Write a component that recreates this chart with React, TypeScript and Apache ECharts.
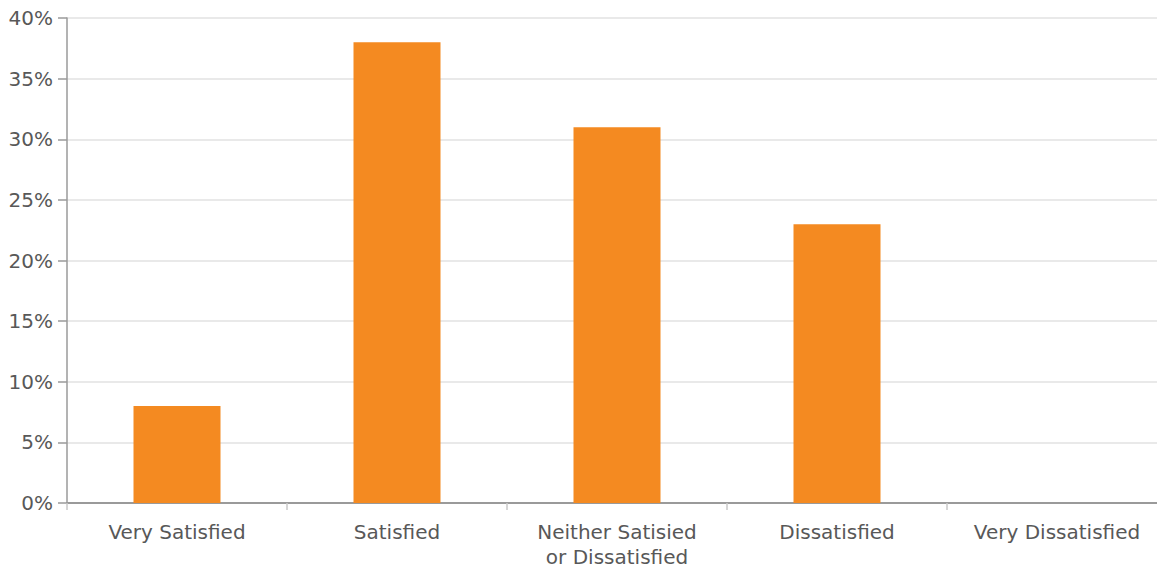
import React, { useEffect, useRef } from "react";
import * as echarts from "echarts";

const categories = [
  "Very Satisfied",
  "Satisfied",
  "Neither Satisied\nor Dissatisfied",
  "Dissatisfied",
  "Very Dissatisfied",
];
const values = [8, 38, 31, 23, 0];
const yTicks = { min: 0, max: 40, interval: 5 };

export default function App() {
  const ref = useRef<HTMLDivElement>(null);
  useEffect(() => {
    document.body.style.margin = "0";
    const chart = echarts.init(ref.current!, null, { renderer: "svg" });
    const font = "'DejaVu Sans', sans-serif";
    chart.setOption({
      animation: false,
      grid: { left: 67, right: 0, top: 18, bottom: 64, containLabel: false },
      xAxis: {
        type: "category",
        data: categories,
        axisLine: { lineStyle: { color: "#9a9a9a", width: 2 } },
        axisTick: { show: true, length: 7, lineStyle: { color: "#c8c8c8", width: 1.5 } },
        axisLabel: {
          color: "#585858",
          fontSize: 20,
          fontFamily: font,
          margin: 16,
          lineHeight: 25,
          interval: 0,
        },
      },
      yAxis: {
        type: "value",
        min: yTicks.min,
        max: yTicks.max,
        interval: yTicks.interval,
        axisLine: { show: true, lineStyle: { color: "#9a9a9a", width: 1.5 } },
        axisTick: { show: true, length: 9, lineStyle: { color: "#9a9a9a", width: 1.5 } },
        splitLine: { lineStyle: { color: "#e2e2e2", width: 1.5 } },
        axisLabel: {
          color: "#585858",
          fontSize: 20,
          fontFamily: font,
          margin: 14,
          formatter: "{value}%",
        },
      },
      series: [
        {
          type: "bar",
          data: values,
          barWidth: 87,
          itemStyle: { color: "#F48A21" },
        },
      ],
    });
    return () => chart.dispose();
  }, []);
  return (
    <div style={{ width: 1157, height: 569, overflow: "hidden" }}>
      <div ref={ref} style={{ width: 1167, height: 569 }} />
    </div>
  );
}
